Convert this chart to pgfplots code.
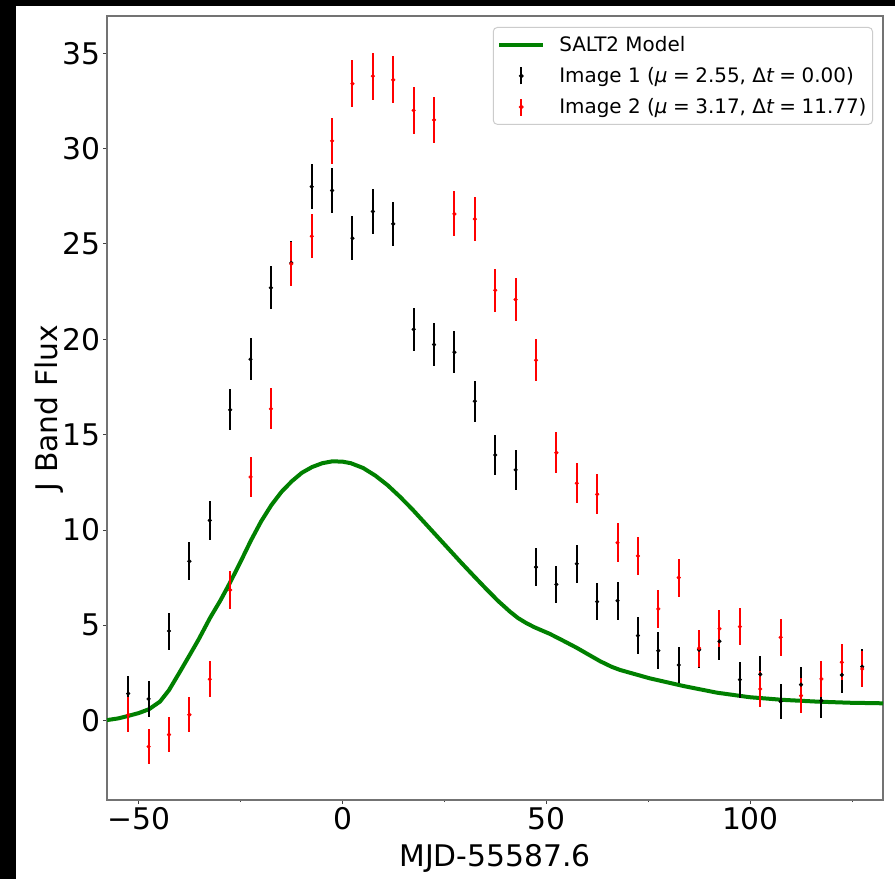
\documentclass[border=0pt]{standalone}
\usepackage{pgfplots}
\pgfplotsset{compat=1.18}
\usepackage{pgfplotstable}
\usepackage{fontspec}
\setmainfont{DejaVu Sans}
\definecolor{mplgreen}{RGB}{0,128,0}

\pgfplotstableread{
t f e
-52.6 1.42 0.93
-47.6 1.14 0.93
-42.6 4.70 0.97
-37.6 8.36 1.00
-32.6 10.50 1.02
-27.6 16.30 1.08
-22.6 18.95 1.10
-17.6 22.70 1.13
-12.6 24.00 1.14
-7.6 28.00 1.18
-2.6 27.80 1.18
2.4 25.30 1.16
7.4 26.70 1.17
12.4 26.05 1.17
17.4 20.52 1.12
22.4 19.72 1.11
27.4 19.32 1.11
32.4 16.75 1.08
37.4 13.93 1.06
42.4 13.15 1.05
47.4 8.05 1.00
52.4 7.15 0.98
57.4 8.23 1.00
62.4 6.24 0.98
67.4 6.29 0.99
72.4 4.46 0.96
77.4 3.67 0.96
82.4 2.92 0.94
87.4 3.72 0.95
92.4 4.16 0.96
97.4 2.15 0.94
102.4 2.43 0.94
107.4 1.00 0.93
112.4 1.89 0.93
117.4 1.05 0.93
122.4 2.40 0.94
127.4 2.83 0.94
}\imgone

\pgfplotstableread{
t f e
-52.6 0.31 0.92
-47.6 -1.36 0.91
-42.6 -0.73 0.92
-37.6 0.31 0.92
-32.6 2.17 0.94
-27.6 6.85 0.98
-22.6 12.78 1.04
-17.6 16.35 1.08
-12.6 23.95 1.15
-7.6 25.40 1.16
-2.6 30.40 1.20
2.4 33.40 1.22
7.4 33.80 1.23
12.4 33.60 1.23
17.4 32.00 1.22
22.4 31.50 1.21
27.4 26.57 1.18
32.4 26.30 1.17
37.4 22.57 1.13
42.4 22.08 1.13
47.4 18.90 1.10
52.4 14.05 1.07
57.4 12.45 1.06
62.4 11.87 1.05
67.4 9.33 1.02
72.4 8.64 1.01
77.4 5.86 0.98
82.4 7.50 1.00
87.4 3.80 0.96
92.4 4.82 0.97
97.4 4.93 0.97
102.4 1.66 0.93
107.4 4.37 0.96
112.4 1.31 0.93
117.4 2.19 0.94
122.4 3.06 0.95
127.4 2.71 0.94
}\imgtwo

\pgfplotstableread{
t f
-57.8 0.03
-55.0 0.12
-52.6 0.25
-50.0 0.40
-47.5 0.60
-44.8 1.00
-42.6 1.60
-39.9 2.57
-37.5 3.45
-35.4 4.23
-32.5 5.40
-30.0 6.30
-27.6 7.25
-25.0 8.35
-22.5 9.45
-20.0 10.45
-17.5 11.30
-15.0 12.00
-12.5 12.55
-10.0 13.00
-7.5 13.30
-5.0 13.50
-2.5 13.60
0.0 13.58
2.0 13.50
5.0 13.25
8.0 12.85
11.0 12.35
14.0 11.75
17.0 11.10
20.0 10.40
23.0 9.70
26.0 9.00
29.0 8.30
32.0 7.62
35.0 6.95
38.0 6.30
41.0 5.72
43.0 5.38
45.0 5.12
47.0 4.90
50.8 4.55
54.0 4.20
57.4 3.82
60.0 3.50
63.1 3.12
66.0 2.82
68.0 2.66
75.3 2.22
83.5 1.82
91.7 1.47
99.8 1.23
108.0 1.09
116.2 1.00
124.3 0.94
132.5 0.91
}\salt

\begin{document}
\begin{tikzpicture}
\useasboundingbox (-107bp,-79bp) rectangle (788bp,800bp);
\fill[white] (-107bp,-79bp) rectangle (788bp,800bp);
\fill[black] (-107bp,-79bp) rectangle (-91bp,800bp);
\fill[black] (-107bp,794bp) rectangle (788bp,800bp);
\begin{axis}[
  at={(0bp,0bp)}, anchor=south west,
  scale only axis, width=776bp, height=784bp,
  xmin=-57.8, xmax=132.5, ymin=-4.16, ymax=36.95,
  xtick={-50,0,50,100}, xticklabels={−50,0,50,100},
  minor xtick={-25,25,75,125},
  ytick={0,5,10,15,20,25,30,35},
  tick align=outside, tick pos=left,
  major tick length=3.5bp, minor tick length=2.2bp,
  every tick/.style={black!75, line width=0.9bp},
  axis line style={black!55, line width=1.1bp},
  /pgf/number format/assume math mode=true,
  ticklabel style={font=\fontsize{29.9}{36}\selectfont},
  label style={font=\fontsize{29.9}{36}\selectfont},
  xlabel={MJD-55587.6}, ylabel={J Band Flux},
  xlabel style={at={(axis description cs:0.5,-0.0842)}, anchor=base},
  ylabel style={at={(axis description cs:-0.0644,0.5)}, anchor=base},
  legend cell align=left,
  legend style={at={(rel axis cs:0.9871,0.986)}, anchor=north east,
    draw=black!20, line width=1bp, rounded corners=4bp, fill=white, fill opacity=0.8, text opacity=1,
    font=\fontsize{20}{24}\selectfont, inner xsep=4bp, inner ysep=7bp,
    nodes={inner sep=2bp}, row sep=10.5bp, column sep=12bp},
]
\addplot[mplgreen, line width=4bp, no marks,
  legend image code/.code={\draw[mplgreen, line width=4bp] (0bp,0bp) -- (44bp,0bp);}]
  table[x=t, y=f] {\salt};
\addlegendentry{SALT2 Model}
\addplot[black, only marks, mark=*, mark size=1.9bp,
  legend image code/.code={\path[draw=none, fill=none] (0bp,0bp) rectangle (44bp,0.1bp); \draw[black, line width=2bp] (22bp,-8.5bp) -- (22bp,8.5bp); \fill[black] (22bp,0bp) circle (1.9bp);},
  error bars/.cd, y dir=both, y explicit, error mark=none,
  error bar style={line width=2bp, black}]
  table[x=t, y=f, y error=e] {\imgone};
\addlegendentry{Image 1 ({\itshape μ}\hspace{0.28em}=\hspace{0.28em}2.55, Δ{\itshape t}\hspace{0.28em}=\hspace{0.28em}0.00)}
\addplot[red, only marks, mark=*, mark size=1.9bp,
  legend image code/.code={\path[draw=none, fill=none] (0bp,0bp) rectangle (44bp,0.1bp); \draw[red, line width=2bp] (22bp,-8.5bp) -- (22bp,8.5bp); \fill[red] (22bp,0bp) circle (1.9bp);},
  error bars/.cd, y dir=both, y explicit, error mark=none,
  error bar style={line width=2bp, red}]
  table[x=t, y=f, y error=e] {\imgtwo};
\addlegendentry{Image 2 ({\itshape μ}\hspace{0.28em}=\hspace{0.28em}3.17, Δ{\itshape t}\hspace{0.28em}=\hspace{0.28em}11.77)}
\end{axis}
\end{tikzpicture}
\end{document}
